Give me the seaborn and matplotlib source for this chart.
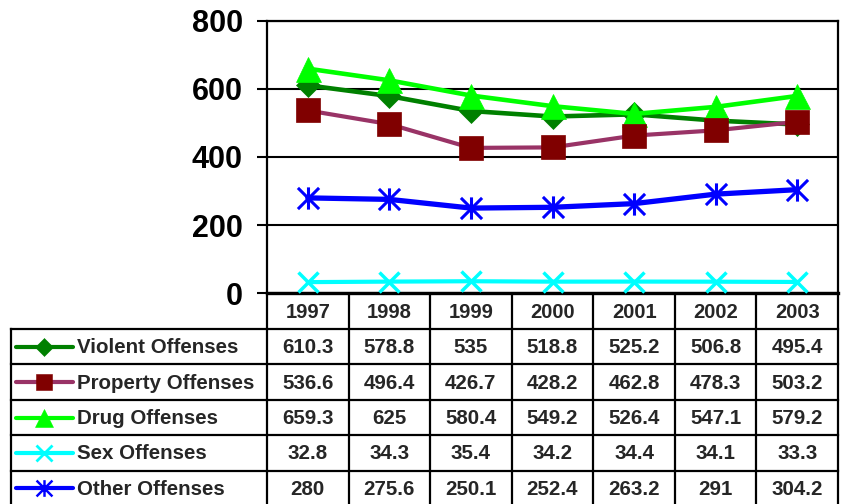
import matplotlib
matplotlib.use("Agg")
import matplotlib.pyplot as plt
from matplotlib.path import Path
from matplotlib.lines import Line2D
import pandas as pd
import seaborn as sns

# ---- data ----
years = ["1997", "1998", "1999", "2000", "2001", "2002", "2003"]
series_names = ["Violent Offenses", "Property Offenses", "Drug Offenses",
                "Sex Offenses", "Other Offenses"]
violent = [610.3, 578.8, 535, 518.8, 525.2, 506.8, 495.4]
property_off = [536.6, 496.4, 426.7, 428.2, 462.8, 478.3, 503.2]
drug = [659.3, 625, 580.4, 549.2, 526.4, 547.1, 579.2]
sex = [32.8, 34.3, 35.4, 34.2, 34.4, 34.1, 33.3]
other = [280, 275.6, 250.1, 252.4, 263.2, 291, 304.2]
yticks = [0, 200, 400, 600, 800]

sns.set_style("white")
plt.rcParams["font.family"] = ["Liberation Sans", "DejaVu Sans"]
plt.rcParams["font.weight"] = "bold"

# asterisk marker: vertical bar plus diagonal cross
star = Path([(-1, -1), (1, 1), (-1, 1), (1, -1), (0, -1.05), (0, 1.05)],
            [Path.MOVETO, Path.LINETO, Path.MOVETO, Path.LINETO,
             Path.MOVETO, Path.LINETO])

styles = {
    "Violent Offenses": dict(values=violent, line="#008000", face="#008000",
                             marker="D", ms=12, lms=9, mew=0.5, lw=3.3),
    "Drug Offenses": dict(values=drug, line="#00FF00", face="#00FF00",
                          marker="^", ms=18, lms=13, mew=0.5, lw=3.3),
    "Property Offenses": dict(values=property_off, line="#993366", face="#800000",
                              marker="s", ms=17, lms=12, mew=0.5, lw=3.0),
    "Sex Offenses": dict(values=sex, line="#00FFFF", face="#00FFFF",
                         marker="x", ms=15, lms=11, mew=2.5, lw=3.0),
    "Other Offenses": dict(values=other, line="#0000FF", face="#0000FF",
                           marker=star, ms=16, lms=12, mew=2.2, lw=3.8),
}
draw_order = ["Violent Offenses", "Drug Offenses", "Property Offenses",
              "Sex Offenses", "Other Offenses"]

# ---- layout in pixels ----
W, H = 845, 504
L, R, T, B = 267, 838, 20.7, 293.3
fig = plt.figure(figsize=(W / 100, H / 100), dpi=100)
ax = fig.add_axes([L / W, 1 - B / H, (R - L) / W, (B - T) / H])

x_idx = list(range(len(years)))
for name in draw_order:
    st = styles[name]
    df = pd.DataFrame({"x": x_idx, "y": st["values"]})
    sns.lineplot(data=df, x="x", y="y", ax=ax, color=st["line"], lw=st["lw"],
                 marker=st["marker"], markersize=st["ms"],
                 markerfacecolor=st["face"], markeredgecolor=st["face"],
                 markeredgewidth=st["mew"], sort=False, clip_on=False,
                 zorder=3)

ax.set_xlim(-0.5, len(years) - 0.5)
ax.set_ylim(0, 800)
ax.set_yticks(yticks)
ax.set_yticklabels([str(v) for v in yticks], fontsize=22, fontweight="bold")
ax.set_xticks([])
ax.set_xlabel("")
ax.set_ylabel("")
ax.tick_params(axis="y", direction="out", length=7.5, width=1.5, pad=10,
               colors="black", left=True)
ax.grid(axis="y", color="black", lw=1.5)
ax.set_axisbelow(True)
for side, sp in ax.spines.items():
    sp.set_visible(True)
    sp.set_color("black")
    sp.set_linewidth(1.6)
ax.spines["bottom"].set_linewidth(2.4)

# ---- data table ----
tab = fig.add_axes([0, 0, 1, 1], zorder=-1)
tab.set_xlim(0, W)
tab.set_ylim(H, 0)
tab.axis("off")

ncol = len(years)
colw = (R - L) / ncol
hdr_bot = 329
row_h = 35.4
tbl_left = 11
nrow = len(series_names)
tbl_bot = hdr_bot + nrow * row_h
tlw = 1.6

# vertical rules
for i in range(ncol + 1):
    tab.plot([L + i * colw] * 2, [B, tbl_bot], color="black", lw=tlw,
             clip_on=False, solid_capstyle="projecting")
tab.plot([tbl_left] * 2, [hdr_bot, tbl_bot], color="black", lw=tlw,
         clip_on=False, solid_capstyle="projecting")
# horizontal rules
for r in range(nrow + 1):
    y = hdr_bot + r * row_h
    tab.plot([tbl_left, R], [y, y], color="black", lw=tlw, clip_on=False,
             solid_capstyle="projecting")

# header years
for i, yr in enumerate(years):
    tab.text(L + (i + 0.5) * colw, (B + hdr_bot) / 2 + 1, yr, ha="center",
             va="center", fontsize=14.5, fontweight="bold")

# rows: legend key, label and values
for r, name in enumerate(series_names):
    st = styles[name]
    yc = hdr_bot + (r + 0.5) * row_h
    tab.add_line(Line2D([16, 73], [yc, yc], color=st["line"], lw=3.0,
                        solid_capstyle="round"))
    tab.add_line(Line2D([44.5], [yc], marker=st["marker"], markersize=st["lms"],
                        markerfacecolor=st["face"], markeredgecolor=st["face"],
                        markeredgewidth=st["mew"] * 0.8, linestyle="none"))
    tab.text(77, yc + 1, name, ha="left", va="center", fontsize=14.8,
             fontweight="bold")
    for i, v in enumerate(st["values"]):
        tab.text(L + (i + 0.5) * colw, yc + 1, f"{v:g}", ha="center",
                 va="center", fontsize=14.8, fontweight="bold")

fig.savefig("out.png", dpi=100)
